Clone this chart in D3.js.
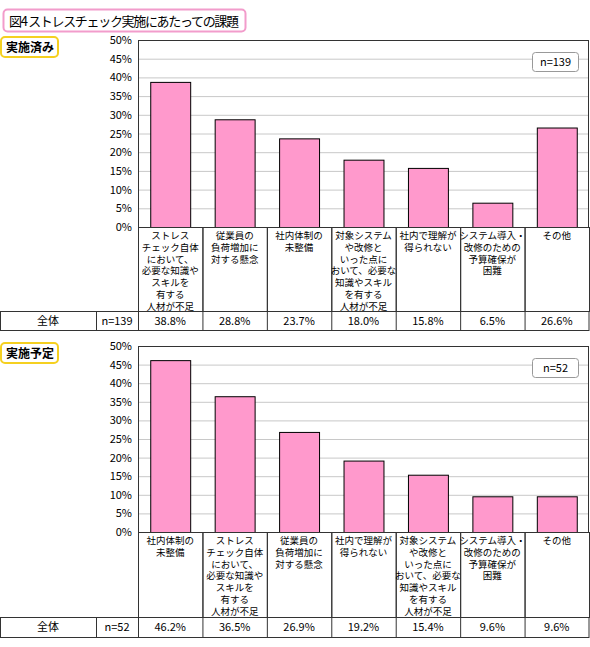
<!DOCTYPE html>
<html><head><meta charset="utf-8">
<script src="https://cdn.jsdelivr.net/npm/d3@7"></script>
<style>body{margin:0;background:#fff}text{font-family:"Noto Sans CJK JP",sans-serif;}</style>
</head><body><svg width="590" height="647"></svg>
<script>
const title = "図4 ストレスチェック実施にあたっての課題";
const yTicks = [0, 5, 10, 15, 20, 25, 30, 35, 40, 45, 50];
const cats1 = ["ストレス\nチェック自体\nにおいて、\n必要な知識や\nスキルを\n有する\n人材が不足", "従業員の\n負荷増加に\n対する懸念", "社内体制の\n未整備", "対象システム\nや改修と\nいった点に\nおいて、必要な\n知識やスキル\nを有する\n人材が不足", "社内で理解が\n得られない", "システム導入・\n改修のための\n予算確保が\n困難", "その他"];
const vals1 = [38.8, 28.8, 23.7, 18.0, 15.8, 6.5, 26.6];
const cats2 = ["社内体制の\n未整備", "ストレス\nチェック自体\nにおいて、\n必要な知識や\nスキルを\n有する\n人材が不足", "従業員の\n負荷増加に\n対する懸念", "社内で理解が\n得られない", "対象システム\nや改修と\nいった点に\nおいて、必要な\n知識やスキル\nを有する\n人材が不足", "システム導入・\n改修のための\n予算確保が\n困難", "その他"];
const vals2 = [46.2, 36.5, 26.9, 19.2, 15.4, 9.6, 9.6];

const svg = d3.select("svg");
const left = 138, right = 589;

// title box
svg.append("rect").attr("x", 3.5).attr("y", 9.5).attr("width", 242).attr("height", 22)
  .attr("rx", 4).attr("fill", "#fff").attr("stroke", "#f29ccb").attr("stroke-width", 2);
svg.append("text").attr("x", 9).attr("y", 26).attr("font-size", 13).attr("textLength", 230).text(title);

function panel(name, n, cats, vals, top, bottom, labBottom, rowBottom) {
  const x = d3.scaleBand().domain(d3.range(cats.length)).range([left, right]).paddingInner(0.38).paddingOuter(0.19);
  const xCol = d3.scaleBand().domain(d3.range(cats.length)).range([left, right]);
  const y = d3.scaleLinear().domain([0, 50]).range([bottom, top]);

  svg.append("rect").attr("x", 1).attr("y", top - 3).attr("width", 57).attr("height", 20)
    .attr("rx", 4).attr("fill", "#fff").attr("stroke", "#f5d020").attr("stroke-width", 2);
  svg.append("text").attr("x", 6).attr("y", top + 12).attr("font-size", 12).attr("font-weight", "bold").text(name);

  const g = svg.append("g");
  g.selectAll(".grid").data(yTicks.slice(1)).join("line")
    .attr("x1", left).attr("x2", right).attr("y1", d => y(d) + 0.5).attr("y2", d => y(d) + 0.5)
    .attr("stroke", "#c8c8c8");
  g.selectAll(".tick").data(yTicks).join("text")
    .attr("x", left - 6).attr("y", d => y(d) + 4).attr("text-anchor", "end").attr("font-size", 11)
    .text(d => d + "%");
  g.selectAll("rect.bar").data(vals).join("rect").attr("class", "bar")
    .attr("x", (d, i) => x(i) + 0.5).attr("width", x.bandwidth())
    .attr("y", d => y(d) + 0.5).attr("height", d => bottom - y(d))
    .attr("fill", "#ff99cc").attr("stroke", "#000");
  g.append("rect").attr("x", left + 0.5).attr("y", top + 0.5).attr("width", right - left - 1).attr("height", bottom - top)
    .attr("fill", "none").attr("stroke", "#333");

  // n box
  g.append("rect").attr("x", 532.5).attr("y", top + 12.5).attr("width", 46).attr("height", 19).attr("rx", 3)
    .attr("fill", "#fff").attr("stroke", "#999");
  g.append("text").attr("x", 555.5).attr("y", top + 26).attr("text-anchor", "middle").attr("font-size", 11).text("n=" + n);

  // label cells
  cats.forEach((c, i) => {
    g.append("rect").attr("x", xCol(i) + 0.5).attr("y", bottom + 0.5).attr("width", xCol.bandwidth()).attr("height", labBottom - bottom)
      .attr("fill", "none").attr("stroke", "#333");
    const t = g.append("text").attr("x", xCol(i) + xCol.bandwidth() / 2).attr("y", bottom + 12)
      .attr("text-anchor", "middle").attr("font-size", 9.5);
    c.split("\n").forEach((l, k) => t.append("tspan").attr("x", xCol(i) + xCol.bandwidth() / 2).attr("dy", k ? 11.8 : 0).text(l));
  });
  // table row
  const rowY = labBottom;
  g.append("rect").attr("x", 0.5).attr("y", rowY + 0.5).attr("width", right - 0.5).attr("height", rowBottom - rowY)
    .attr("fill", "none").attr("stroke", "#333");
  g.append("line").attr("x1", 96.5).attr("x2", 96.5).attr("y1", rowY).attr("y2", rowBottom).attr("stroke", "#333");
  g.append("line").attr("x1", left + 0.5).attr("x2", left + 0.5).attr("y1", rowY).attr("y2", rowBottom).attr("stroke", "#333");
  const ty = (rowY + rowBottom) / 2 + 4;
  g.append("text").attr("x", 48).attr("y", ty).attr("text-anchor", "middle").attr("font-size", 11).text("全体");
  g.append("text").attr("x", 117).attr("y", ty).attr("text-anchor", "middle").attr("font-size", 11).text("n=" + n);
  vals.forEach((v, i) => {
    if (i > 0) g.append("line").attr("x1", xCol(i) + 0.5).attr("x2", xCol(i) + 0.5).attr("y1", rowY).attr("y2", rowBottom).attr("stroke", "#333");
    g.append("text").attr("x", xCol(i) + xCol.bandwidth() / 2).attr("y", ty).attr("text-anchor", "middle").attr("font-size", 11)
      .text(v.toFixed(1) + "%");
  });
}

panel("実施済み", 139, cats1, vals1, 40, 227, 311, 330);
panel("実施予定", 52, cats2, vals2, 346, 532, 617, 637);
</script></body></html>
